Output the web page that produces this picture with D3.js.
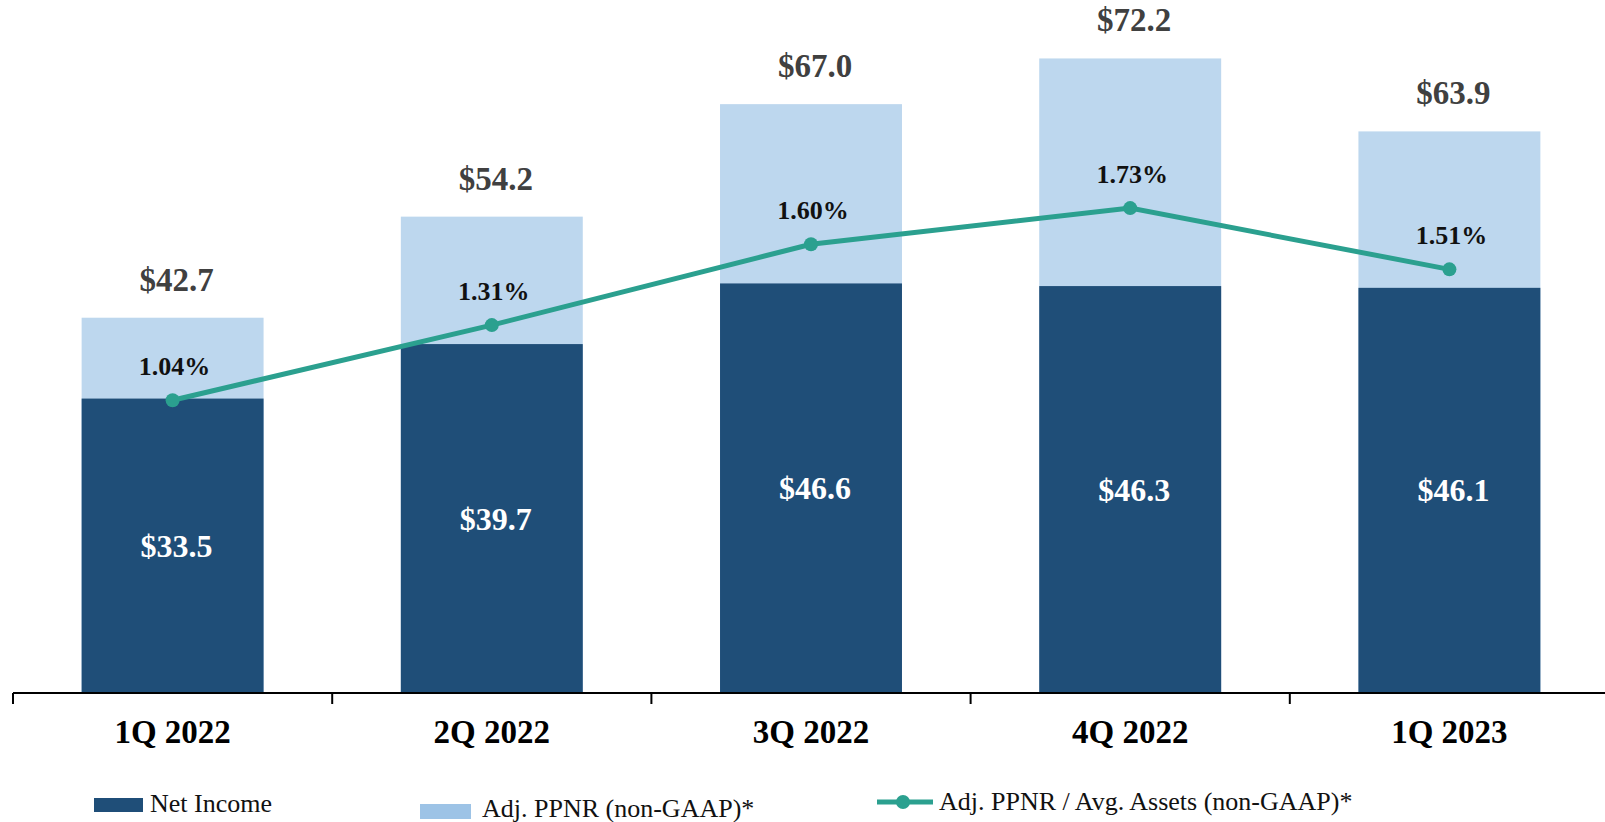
<!DOCTYPE html>
<html><head><meta charset="utf-8">
<script src="https://cdn.jsdelivr.net/npm/d3@7"></script>
<style>
html,body{margin:0;padding:0;background:#fff;overflow:hidden}
svg{display:block}
text{font-family:"Liberation Serif","Times New Roman",serif}
</style></head>
<body>
<svg id="chart" width="1605" height="822"></svg>
<script>
const categories = ["1Q 2022","2Q 2022","3Q 2022","4Q 2022","1Q 2023"];
const netIncome = [33.5, 39.7, 46.6, 46.3, 46.1];
const adjPPNR = [42.7, 54.2, 67.0, 72.2, 63.9];
const ppnrRatio = [1.04, 1.31, 1.60, 1.73, 1.51];
const seriesNames = ["Net Income","Adj. PPNR (non-GAAP)*","Adj. PPNR / Avg. Assets (non-GAAP)*"];

const C_DARK = "#1F4E78", C_LIGHT = "#BDD7EE", C_LIGHT_LEG = "#9DC3E6", C_LINE = "#2BA08F";

const svg = d3.select("#chart");
const x = d3.scaleBand().domain(categories).range([13, 1609]).paddingInner(0.43).paddingOuter(0.215);
const y = d3.scaleLinear().domain([0, 78.85]).range([693, 0]);
const y2 = d3.scaleLinear().domain([0, 2.477]).range([690, 0]);
const xc = d => x(d) + x.bandwidth()/2;

// light bars (total)
svg.append("g").selectAll("rect").data(categories).join("rect")
  .attr("x", d => x(d)).attr("width", x.bandwidth())
  .attr("y", (d,i) => y(adjPPNR[i])).attr("height", (d,i) => y(0) - y(adjPPNR[i]))
  .attr("fill", C_LIGHT);
// dark bars
svg.append("g").selectAll("rect").data(categories).join("rect")
  .attr("x", d => x(d)).attr("width", x.bandwidth())
  .attr("y", (d,i) => y(netIncome[i])).attr("height", (d,i) => y(0) - y(netIncome[i]))
  .attr("fill", C_DARK);

// axis
const xAxis = d3.axisBottom(x).tickSize(0).tickFormat("");
const ax = svg.append("g").attr("transform", "translate(0,693)").call(xAxis);
ax.select(".domain").remove();
ax.append("line").attr("x1", 13).attr("x2", 1605).attr("y1", 0).attr("y2", 0)
  .attr("stroke", "#000").attr("stroke-width", 2);
const bounds = categories.map(d => x(d) - x.step()*x.paddingInner()/2);
bounds.push(x(categories[4]) + x.bandwidth() + x.step()*x.paddingInner()/2);
ax.selectAll(".tk").data(bounds).join("line").attr("class","tk")
  .attr("x1", d => d).attr("x2", d => d).attr("y1", 0).attr("y2", 11)
  .attr("stroke", "#000").attr("stroke-width", 2);
svg.append("g").selectAll("text").data(categories).join("text")
  .attr("x", d => xc(d)).attr("y", 743).attr("text-anchor","middle")
  .attr("font-size", 33).attr("font-weight","bold").attr("fill","#000").text(d => d);

// inner labels
svg.append("g").selectAll("text").data(categories).join("text")
  .attr("x", d => xc(d) + 4).attr("y", (d,i) => (y(netIncome[i]) + y(0))/2 + 11)
  .attr("text-anchor","middle").attr("font-size", 32).attr("font-weight","bold")
  .attr("fill","#fff").text((d,i) => "$" + netIncome[i].toFixed(1));
// total labels
svg.append("g").selectAll("text").data(categories).join("text")
  .attr("x", d => xc(d) + 4).attr("y", (d,i) => y(adjPPNR[i]) - 27)
  .attr("text-anchor","middle").attr("font-size", 33).attr("font-weight","bold")
  .attr("fill","#404040").text((d,i) => "$" + adjPPNR[i].toFixed(1));

// line
const line = d3.line().x((d,i) => xc(categories[i])).y(d => y2(d));
svg.append("path").datum(ppnrRatio).attr("d", line)
  .attr("fill","none").attr("stroke", C_LINE).attr("stroke-width", 5);
svg.append("g").selectAll("circle").data(ppnrRatio).join("circle")
  .attr("cx", (d,i) => xc(categories[i])).attr("cy", d => y2(d)).attr("r", 7)
  .attr("fill", C_LINE);
svg.append("g").selectAll("text").data(ppnrRatio).join("text")
  .attr("x", (d,i) => xc(categories[i]) + 2).attr("y", d => y2(d) - 25)
  .attr("text-anchor","middle").attr("font-size", 26).attr("font-weight","bold")
  .attr("fill","#111").text(d => d.toFixed(2) + "%");

// legend
const lg = svg.append("g");
lg.append("rect").attr("x",94).attr("y",798).attr("width",49).attr("height",14).attr("fill",C_DARK);
lg.append("text").attr("x",150).attr("y",812).attr("font-size",26).attr("fill","#111").text(seriesNames[0]);
lg.append("rect").attr("x",420).attr("y",804).attr("width",51).attr("height",15).attr("fill",C_LIGHT_LEG);
lg.append("text").attr("x",482).attr("y",817).attr("font-size",26).attr("fill","#111").text(seriesNames[1]);
lg.append("line").attr("x1",877).attr("x2",933).attr("y1",802).attr("y2",802)
  .attr("stroke",C_LINE).attr("stroke-width",5);
lg.append("circle").attr("cx",903).attr("cy",802).attr("r",7).attr("fill",C_LINE);
lg.append("text").attr("x",939).attr("y",810).attr("font-size",26).attr("fill","#111").text(seriesNames[2]);
</script>
</body></html>
